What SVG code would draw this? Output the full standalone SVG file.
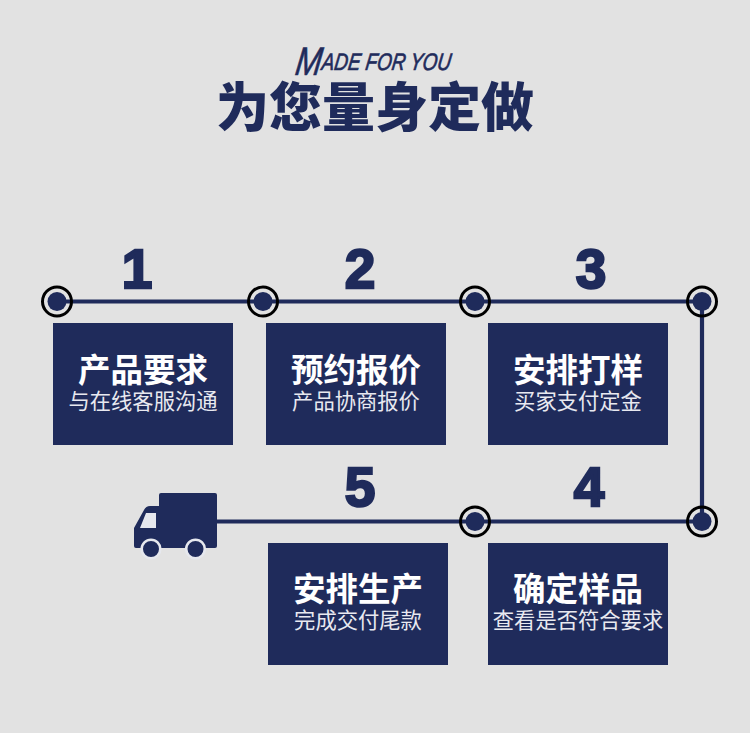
<svg xmlns="http://www.w3.org/2000/svg" width="750" height="733" viewBox="0 0 750 733">
<style>
.cjk{font-family:"Noto Sans CJK SC","Noto Sans CJK JP",sans-serif;text-anchor:middle}
.h{font-size:32.5px;font-weight:700;fill:#fff}
.s{font-size:21.3px;font-weight:400;fill:#e8e9f0}
.n{font-family:"Liberation Sans",Arial,sans-serif;font-weight:700;font-size:55px;fill:#1f2b5b;text-anchor:middle;stroke:#1f2b5b;stroke-width:2.4px}
.box{fill:#1f2b5b}
.ring{fill:none;stroke:#000;stroke-width:3px}
.dot{fill:#1f2b5b}
.line{fill:none;stroke:#1f2b5b;stroke-width:4.2px}
</style>
<defs>
<g id="pin"><circle class="dot" r="9.5"/><circle class="ring" r="14.5"/></g>
</defs>
<rect width="750" height="733" fill="#e2e2e2"/>
<g id="title">
<text transform="translate(295 70) skewX(-8)" font-family="'Liberation Sans',sans-serif" font-style="italic" font-size="24" fill="#1f2b5b" stroke="#1f2b5b" stroke-width="0.7" textLength="155" lengthAdjust="spacingAndGlyphs"><tspan font-size="40" dy="5">M</tspan><tspan dy="-5">ADE FOR YOU</tspan></text>
<text x="375" y="127" class="cjk" font-size="53" font-weight="900" fill="#1f2b5b">为您量身定做</text>
</g>
<g id="connectors">
<path class="line" d="M57 301.5H702V521.5H217"/>
</g>
<g id="pins">
<use href="#pin" x="57" y="301.5"/><use href="#pin" x="263" y="301.5"/><use href="#pin" x="475" y="301.5"/><use href="#pin" x="702" y="301.5"/><use href="#pin" x="702" y="521.5"/><use href="#pin" x="475" y="521.5"/>
</g>
<g id="step1"><text class="n" x="137" y="288">1</text><rect class="box" x="53" y="323" width="180" height="122"/><text class="cjk h" x="143" y="382">产品要求</text><text class="cjk s" x="143" y="408.5">与在线客服沟通</text></g>
<g id="step2"><text class="n" x="360" y="288">2</text><rect class="box" x="266" y="323" width="180" height="122"/><text class="cjk h" x="356" y="382">预约报价</text><text class="cjk s" x="356" y="408.5">产品协商报价</text></g>
<g id="step3"><text class="n" x="591" y="288">3</text><rect class="box" x="488" y="323" width="180" height="122"/><text class="cjk h" x="578" y="382">安排打样</text><text class="cjk s" x="578" y="408.5">买家支付定金</text></g>
<g id="step4"><text class="n" x="589" y="506">4</text><rect class="box" x="488" y="543" width="180" height="122"/><text class="cjk h" x="578" y="601">确定样品</text><text class="cjk s" x="578" y="627.5">查看是否符合要求</text></g>
<g id="step5"><text class="n" x="360" y="506">5</text><rect class="box" x="268" y="543" width="180" height="122"/><text class="cjk h" x="358" y="601">安排生产</text><text class="cjk s" x="358" y="627.5">完成交付尾款</text></g>
<g id="truck">
<path fill="#1f2b5b" d="M161 493H215Q217 493 217 495V546Q217 548 215 548H136Q134 548 134 546V528L144 510Q146 506 150 506H159V495Q159 493 161 493Z"/>
<path fill="#e6e8ee" d="M146 513H156V528H140Z"/>
<circle cx="151" cy="549" r="9.3" fill="#1f2b5b" stroke="#e6e8ee" stroke-width="2.6"/>
<circle cx="195.5" cy="549" r="9.3" fill="#1f2b5b" stroke="#e6e8ee" stroke-width="2.6"/>
</g>
</svg>
